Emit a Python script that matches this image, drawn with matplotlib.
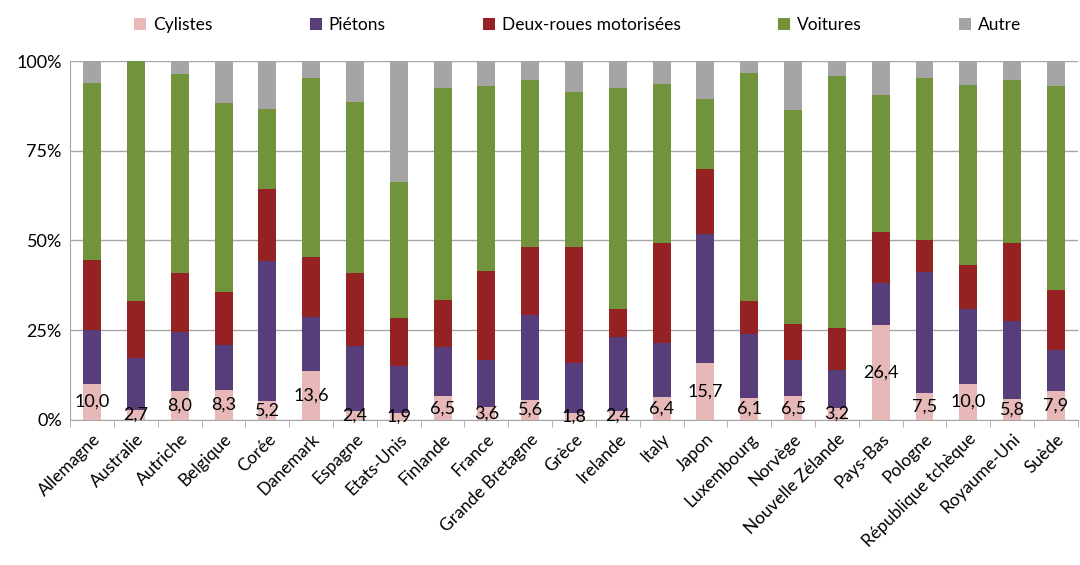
import numpy as np
import matplotlib
matplotlib.use('Agg')
import matplotlib.pyplot as plt
from matplotlib.ticker import PercentFormatter, FixedLocator

plt.rcParams['font.family'] = ['Lato', 'DejaVu Sans']

pays = ['Allemagne', 'Australie', 'Autriche', 'Belgique', 'Corée', 'Danemark',
        'Espagne', 'Etats-Unis', 'Finlande', 'France', 'Grande Bretagne', 'Grèce',
        'Irelande', 'Italy', 'Japon', 'Luxembourg', 'Norvège', 'Nouvelle Zélande',
        'Pays-Bas', 'Pologne', 'République tchèque', 'Royaume-Uni', 'Suède']

# parts en %
cyclistes = [10.0, 2.7, 8.0, 8.3, 5.2, 13.6, 2.4, 1.9, 6.5, 3.6, 5.6, 1.8,
             2.4, 6.4, 15.7, 6.1, 6.5, 3.2, 26.4, 7.5, 10.0, 5.8, 7.9]
pietons = [15.1, 14.4, 16.5, 12.6, 39.0, 15.0, 18.3, 13.0, 13.9, 13.0, 23.7, 14.0,
           20.6, 14.9, 36.2, 17.9, 10.1, 10.8, 11.7, 33.6, 20.9, 21.8, 11.6]
deux_roues = [19.3, 15.9, 16.4, 14.7, 20.1, 16.8, 20.3, 13.5, 13.1, 24.8, 18.9, 32.4,
              7.9, 28.0, 18.0, 9.2, 10.0, 11.6, 14.3, 8.9, 12.3, 21.7, 16.8]
voitures = [49.6, 67.0, 55.4, 52.7, 22.4, 49.8, 47.6, 37.9, 58.9, 51.7, 46.5, 43.2,
            61.5, 44.4, 19.4, 63.6, 59.7, 70.1, 38.2, 45.2, 50.2, 45.4, 56.8]
autre = [100 - (c + p + d + v) for c, p, d, v in zip(cyclistes, pietons, deux_roues, voitures)]

series = [('Cylistes', cyclistes, '#E6B9B8'),
          ('Piétons', pietons, '#573D7A'),
          ('Deux-roues motorisées', deux_roues, '#952222'),
          ('Voitures', voitures, '#71933C'),
          ('Autre', autre, '#A5A5A5')]

fig = plt.figure(figsize=(10.8, 5.65), dpi=100)
ax = fig.add_axes([0.065, 0.257, 0.933, 0.635])

x = np.arange(len(pays))
bottom = np.zeros(len(pays))
for nom, vals, col in series:
    ax.bar(x, vals, 0.41, bottom=bottom, color=col, label=nom, zorder=3)
    bottom += np.array(vals)

# étiquettes des cyclistes
for i, v in enumerate(cyclistes):
    ax.text(x[i], v / 2, f'{v:.1f}'.replace('.', ','), ha='center', va='center',
            fontsize=13, color='black', zorder=4)

ax.set_xlim(-0.5, len(pays) - 0.5)
ax.set_ylim(0, 100)
ax.set_yticks([0, 25, 50, 75, 100])
ax.yaxis.set_major_formatter(PercentFormatter(decimals=0))
ax.grid(axis='y', color='#A6A6A6', linewidth=1, zorder=0)
ax.set_xticks(x)
ax.set_xticklabels(pays, rotation=45, ha='right', rotation_mode='anchor', fontsize=12.5)
ax.xaxis.set_minor_locator(FixedLocator(np.arange(-0.5, len(pays), 1)))
ax.tick_params(axis='x', which='major', length=0, pad=8)
ax.tick_params(axis='x', which='minor', length=5, color='#A6A6A6')
ax.tick_params(axis='y', length=0, labelsize=13, pad=6)
for s in ['top', 'right']:
    ax.spines[s].set_visible(False)
ax.spines['left'].set_color('#A6A6A6')
ax.spines['bottom'].set_color('#A6A6A6')

fig.legend(loc='center', bbox_to_anchor=(0.535, 0.955), ncol=5, frameon=False,
           fontsize=12.5, handlelength=0.7, handleheight=0.7, handletextpad=0.4,
           columnspacing=5.6)

fig.savefig('out.png', dpi=100)
